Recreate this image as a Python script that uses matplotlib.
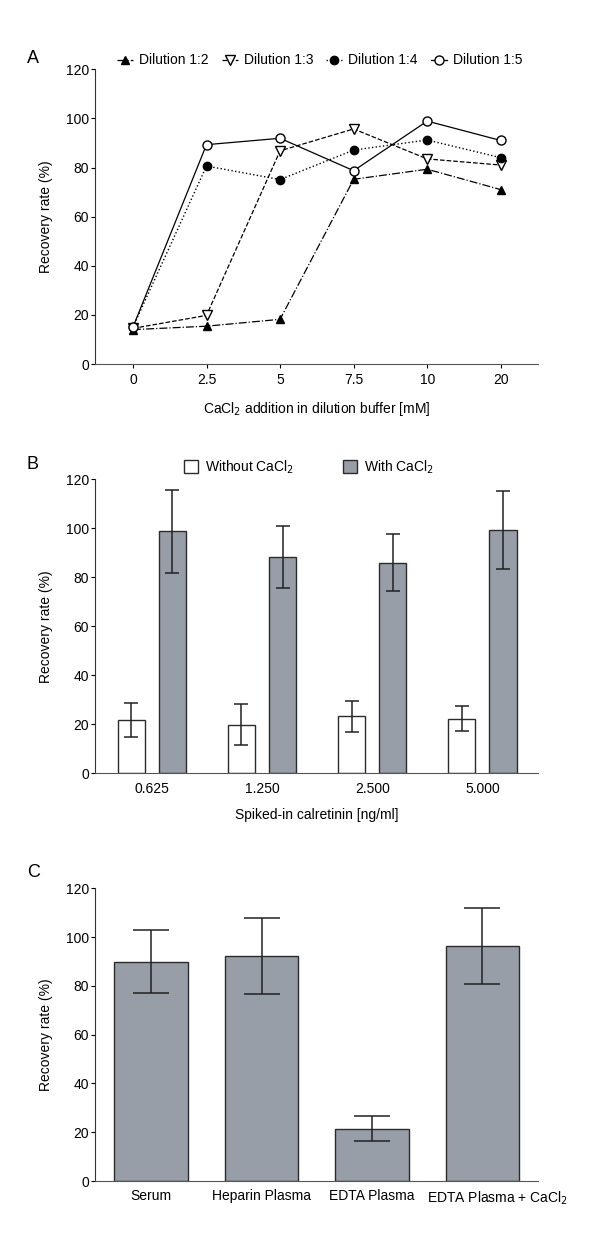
import numpy as np
import matplotlib.pyplot as plt
import matplotlib.transforms as mtransforms
from matplotlib.patches import Patch

plt.rcParams['font.family'] = ['Liberation Sans', 'DejaVu Sans']
fs = 10
plt.rcParams['font.size'] = fs

# panel A
cacl2_mm = ['0', '2.5', '5', '7.5', '10', '20']
dil_12 = [14.0, 15.4, 18.2, 75.2, 79.3, 71.0]
dil_13 = [14.5, 19.8, 86.8, 95.7, 83.5, 81.0]
dil_14 = [15.0, 80.6, 75.1, 87.1, 91.2, 84.0]
dil_15 = [15.0, 89.3, 91.9, 78.7, 98.9, 91.0]

# panel B
spiked = ['0.625', '1.250', '2.500', '5.000']
without_mean = [21.8, 19.8, 23.3, 22.3]
without_err = [6.8, 8.3, 6.3, 5.0]
with_mean = [98.8, 88.3, 85.9, 99.3]
with_err = [17.0, 12.6, 11.7, 15.9]

# panel C
matrices = ['Serum', 'Heparin Plasma', 'EDTA Plasma', 'EDTA Plasma + CaCl$_2$']
matrix_mean = [90.0, 92.4, 21.5, 96.3]
matrix_err = [13.0, 15.6, 5.0, 15.5]

grey = '#989ea8'
edge = '#2b2b2b'

fig = plt.figure(figsize=(6, 12.39), dpi=100)
axA = fig.add_axes([0.159, 0.7062, 0.737, 0.2379])
axB = fig.add_axes([0.159, 0.3759, 0.737, 0.2373])
axC = fig.add_axes([0.159, 0.0468, 0.737, 0.2362])


def style(ax, xtick_len=0):
    ax.spines['top'].set_visible(False)
    ax.spines['right'].set_visible(False)
    ax.spines['left'].set_color('#333333')
    ax.spines['bottom'].set_color('#555555')
    ax.set_ylim(0, 120)
    ax.set_yticks(np.arange(0, 121, 20))
    ax.tick_params(axis='y', length=3, width=0.8, pad=1.5, labelsize=fs)
    ax.tick_params(axis='x', length=xtick_len, width=0.8, pad=6 - xtick_len * 0.75, labelsize=fs)
    ax.set_ylabel('Recovery rate (%)', fontsize=fs, labelpad=9)


# A
x = np.arange(len(cacl2_mm))
axA.plot(x, dil_12, color='black', ls='-.', lw=0.9, marker='^', ms=5.5,
         mfc='black', mec='black', label='Dilution 1:2')
axA.plot(x, dil_13, color='black', ls='--', lw=0.9, marker='v', ms=6.5,
         mfc='white', mec='black', label='Dilution 1:3')
axA.plot(x, dil_14, color='black', ls=':', lw=1.0, marker='o', ms=6,
         mfc='black', mec='black', label='Dilution 1:4')
axA.plot(x, dil_15, color='black', ls='-', lw=0.9, marker='o', ms=6.5,
         mfc='white', mec='black', label='Dilution 1:5')
axA.set_xticks(x)
axA.set_xticklabels(cacl2_mm)
axA.set_xlim(-0.51, 5.5)
style(axA, xtick_len=3)
axA.set_xlabel('CaCl$_2$ addition in dilution buffer [mM]', fontsize=fs, labelpad=9)
axA.legend(ncol=4, frameon=False, loc='center', bbox_to_anchor=(0.507, 1.03),
           handlelength=1.15, columnspacing=0.95, handletextpad=0.42, fontsize=fs,
           borderaxespad=0, borderpad=0)
fig.text(0.045, 0.953, 'A', fontsize=13, va='center', ha='left')

# B
xb = np.arange(len(spiked))
w = 0.247
off = 0.187
axB.bar(xb - off, without_mean, w, color='white', edgecolor=edge, lw=1.0,
        yerr=without_err, error_kw=dict(ecolor='#222222', elinewidth=1.1, capsize=4.8, capthick=1.1))
axB.bar(xb + off, with_mean, w, color=grey, edgecolor=edge, lw=1.0,
        yerr=with_err, error_kw=dict(ecolor='#222222', elinewidth=1.1, capsize=4.8, capthick=1.1))
axB.set_xticks(xb)
axB.set_xticklabels(spiked)
axB.set_xlim(-0.511, 3.5)
style(axB)
axB.set_xlabel('Spiked-in calretinin [ng/ml]', fontsize=fs, labelpad=9)
handles = [Patch(facecolor='white', edgecolor=edge, label='Without CaCl$_2$'),
           Patch(facecolor=grey, edgecolor=edge, label='With CaCl$_2$')]
axB.legend(handles=handles, ncol=2, frameon=False, loc='center',
           bbox_to_anchor=(0.483, 1.042), handlelength=1.0, handleheight=1.0,
           columnspacing=3.5, handletextpad=0.55, fontsize=fs, borderaxespad=0, borderpad=0)
fig.text(0.045, 0.6247, 'B', fontsize=13, va='center', ha='left')

# C
xc = np.arange(len(matrices))
axC.bar(xc, matrix_mean, 0.666, color=grey, edgecolor=edge, lw=1.0,
        yerr=matrix_err, error_kw=dict(ecolor='#222222', elinewidth=1.1, capsize=13, capthick=1.1))
axC.set_xticks(xc)
axC.set_xticklabels(matrices)
axC.set_xlim(-0.505, 3.5)
style(axC)
# last label sits a little right of its bar in the original
last = axC.get_xticklabels()[-1]
last.set_transform(last.get_transform() + mtransforms.ScaledTranslation(15 / 100, 0, fig.dpi_scale_trans))
fig.text(0.045, 0.2954, 'C', fontsize=13, va='center', ha='left')

fig.savefig('out.png', dpi=100, facecolor='white')
